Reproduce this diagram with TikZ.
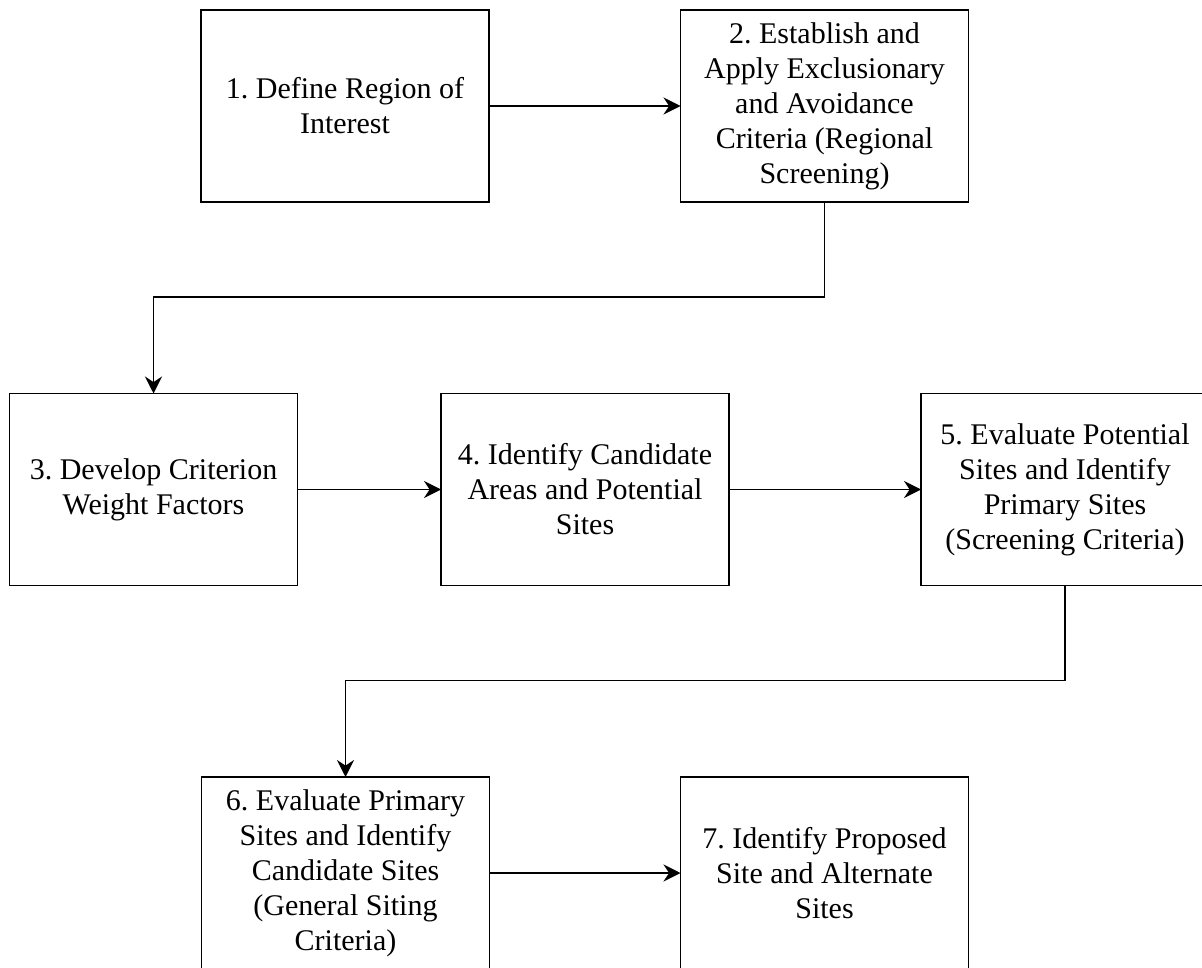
\documentclass[tikz,border=0pt]{standalone}
\usepackage{fontspec}
\setmainfont{Liberation Serif}
\usetikzlibrary{arrows.meta}
\frenchspacing
\begin{document}
\begin{tikzpicture}[x=.5pt,y=-.5pt,
	stagebox/.style={draw,line width=.7pt,minimum width=144pt,minimum height=96pt,inner sep=0pt,outer sep=0pt,align=center,font=\fontsize{15pt}{17.5pt}\selectfont},
	flow/.style={line width=.65pt,-{Stealth[length=8.5pt,width=8.5pt,inset=2.8pt]}}]
	\useasboundingbox (0,0) rectangle (1202,967);
	\clip (0,0) rectangle (1202,967);
	\node[stagebox] (def) at (345,106) {1. Define Region of\\Interest};
	\node[stagebox] (excl) at (824.5,106) {2. Establish and\\Apply Exclusionary\\and Avoidance\\Criteria (Regional\\Screening)};
	\node[stagebox] (wgt) at (153.5,489.5) {3. Develop Criterion\\Weight Factors};
	\node[stagebox] (cand) at (585,489.5) {4. Identify Candidate\\Areas and Potential\\Sites};
	\node[stagebox] (prim) at (1065,489.5) {5. Evaluate Potential\\Sites and Identify\\Primary Sites\\(Screening Criteria)};
	\node[stagebox] (gen) at (345.5,873) {6. Evaluate Primary\\Sites and Identify\\Candidate Sites\\(General Siting\\Criteria)};
	\node[stagebox] (prop) at (824.5,873) {7. Identify Proposed\\Site and Alternate\\Sites};
	\draw[flow] (def) -- (excl);
	\draw[flow] (excl.south) -- ++(0,95) -| (wgt.north);
	\draw[flow] (wgt) -- (cand);
	\draw[flow] (cand) -- (prim);
	\draw[flow] (prim.south) -- ++(0,95) -| (gen.north);
	\draw[flow] (gen) -- (prop);
\end{tikzpicture}
\end{document}
